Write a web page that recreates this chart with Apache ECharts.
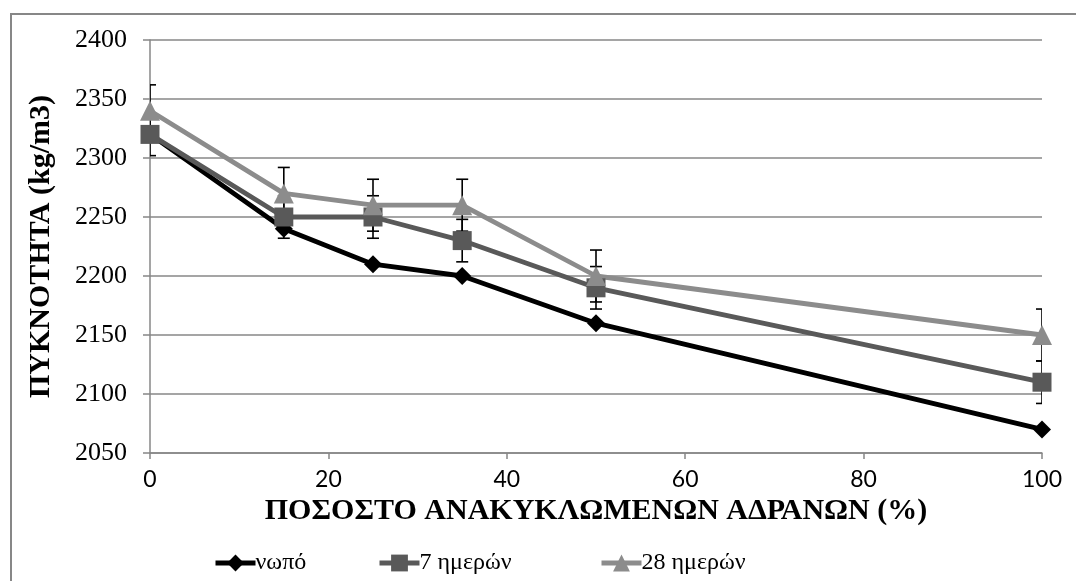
<!DOCTYPE html>
<html>
<head>
<meta charset="utf-8">
<script src="https://cdn.jsdelivr.net/npm/echarts@6/dist/echarts.min.js"></script>
<style>
  html, body { margin: 0; padding: 0; background: #fff; }
  #chart { width: 1076px; height: 581px; }
</style>
</head>
<body>
<div id="chart"></div>
<script>
// Recycled aggregate content (%) on the x axis
const percent = [0, 15, 25, 35, 50, 100];
// Density (kg/m3) per curing age
const fresh = [2320, 2240, 2210, 2200, 2160, 2070];
const day7 = [2320, 2250, 2250, 2230, 2190, 2110];
const day28 = [2340, 2270, 2260, 2260, 2200, 2150];
// Error bar half-widths (kg/m3)
const err7 = [18, 18, 18, 18, 18, 18];
const err28 = [22, 22, 22, 22, 22, 22];
// Series names shown in the legend
const seriesNames = ['νωπό', '7 ημερών', '28 ημερών'];
const xTitle = 'ΠΟΣΟΣΤΟ ΑΝΑΚΥΚΛΩΜΕΝΩΝ ΑΔΡΑΝΩΝ (%)';
const yTitle = 'ΠΥΚΝΟΤΗΤΑ (kg/m3)';

const serif = 'Liberation Serif';
const pairs = (xs, ys) => xs.map((x, i) => [x, ys[i]]);
const bars = (xs, ys, es) => xs.map((x, i) => [x, ys[i] - es[i], ys[i] + es[i]]);

function renderErrorBar(params, api) {
  const x = api.value(0);
  const lo = api.coord([x, api.value(1)]);
  const hi = api.coord([x, api.value(2)]);
  const half = 6;
  const style = { stroke: '#000', lineWidth: 1.6 };
  return {
    type: 'group',
    children: [
      { type: 'line', shape: { x1: lo[0], y1: lo[1], x2: hi[0], y2: hi[1] }, style },
      { type: 'line', shape: { x1: lo[0] - half, y1: lo[1], x2: lo[0] + half, y2: lo[1] }, style },
      { type: 'line', shape: { x1: hi[0] - half, y1: hi[1], x2: hi[0] + half, y2: hi[1] }, style }
    ]
  };
}

function lineSeries(name, data, color, symbol, size) {
  return {
    name, type: 'line', data, z: 3,
    symbol, symbolSize: size,
    lineStyle: { color, width: 4.8 },
    itemStyle: { color },
    emphasis: { disabled: true },
    animation: false
  };
}

function legendAt(left, name) {
  return {
    data: [name], left, top: 546,
    itemWidth: 40, itemHeight: 21, itemGap: 0,
    lineStyle: { width: 5 },
    textStyle: { fontFamily: serif, fontSize: 24, color: '#000', padding: [0, 0, 0, -5] }
  };
}

const chart = echarts.init(document.getElementById('chart'));
chart.setOption({
  backgroundColor: '#fff',
  animation: false,
  graphic: [{
    type: 'rect', silent: true,
    shape: { x: 11, y: 14, width: 1100, height: 620 },
    style: { fill: 'none', stroke: '#878787', lineWidth: 2 }
  }],
  grid: { left: 150, right: 34, top: 40, bottom: 128 },
  legend: [
    legendAt(208, seriesNames[0]),
    legendAt(372, seriesNames[1]),
    legendAt(594, seriesNames[2])
  ],
  xAxis: {
    type: 'value', min: 0, max: 100, interval: 20,
    name: xTitle, nameLocation: 'middle', nameGap: 30,
    nameTextStyle: { fontFamily: serif, fontSize: 30, fontWeight: 'bold', color: '#000' },
    axisLine: { show: true, lineStyle: { color: '#878787', width: 1.5 } },
    axisTick: { show: true, length: 6, lineStyle: { color: '#878787', width: 1.5 } },
    axisLabel: { fontFamily: 'Lato', fontSize: 23, color: '#000', margin: 15 },
    splitLine: { show: false }
  },
  yAxis: {
    type: 'value', min: 2050, max: 2400, interval: 50,
    name: yTitle, nameLocation: 'middle', nameGap: 94, nameRotate: 90,
    nameTextStyle: { fontFamily: serif, fontSize: 30, fontWeight: 'bold', color: '#000' },
    axisLine: { show: true, lineStyle: { color: '#878787', width: 1.5 } },
    axisTick: { show: true, length: 7, lineStyle: { color: '#878787', width: 1.5 } },
    axisLabel: { fontFamily: serif, fontSize: 26, color: '#000', margin: 23, formatter: v => String(v) },
    splitLine: { show: true, lineStyle: { color: '#878787', width: 1.5 } }
  },
  series: [
    { type: 'custom', renderItem: renderErrorBar, data: bars(percent, day7, err7), z: 1, clip: true, silent: true },
    { type: 'custom', renderItem: renderErrorBar, data: bars(percent, day28, err28), z: 1, clip: true, silent: true },
    lineSeries(seriesNames[0], pairs(percent, fresh), '#000000', 'diamond', 18),
    lineSeries(seriesNames[1], pairs(percent, day7), '#595959', 'rect', 19),
    lineSeries(seriesNames[2], pairs(percent, day28), '#8c8c8c', 'triangle', 20)
  ]
});
</script>
</body>
</html>
